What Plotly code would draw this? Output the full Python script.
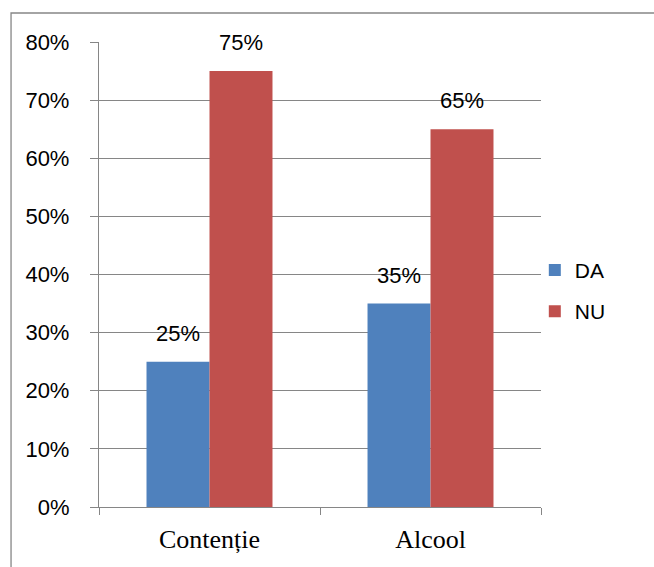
import plotly.graph_objects as go

categories = ["Contenție", "Alcool"]
series_names = ["DA", "NU"]
values_da = [0.25, 0.35]
values_nu = [0.75, 0.65]
colors = ["#4F81BD", "#C0504D"]

axis_gray = "#868686"
sans = "Liberation Sans, Arial, sans-serif"
serif = "Liberation Serif, Times New Roman, serif"

fig = go.Figure()
for name, vals, col in zip(series_names, [values_da, values_nu], colors):
    fig.add_trace(go.Bar(
        name=name, x=categories, y=vals, legendgroup=name,
        marker=dict(color=col, line=dict(width=0)),
    ))

# value labels above each bar
half_bar_px = 31.5
for vals, shift in [(values_da, -half_bar_px), (values_nu, half_bar_px)]:
    for cat, v in zip(categories, vals):
        fig.add_annotation(
            x=cat, y=v, xref="x", yref="y",
            text=f"{round(v * 100)}%", showarrow=False,
            xshift=shift, yanchor="bottom", yshift=14,
            font=dict(family=sans, size=22, color="#000000"),
        )

# chart frame
fig.add_shape(type="rect", xref="paper", yref="paper",
              x0=-0.199, x1=1.6, y0=-0.5, y1=1.0624,
              line=dict(color=axis_gray, width=1.3), layer="below")

fig.update_layout(
    width=654, height=567,
    margin=dict(l=99, r=113, t=42, b=60),
    paper_bgcolor="white", plot_bgcolor="white",
    barmode="group", bargap=0.43, bargroupgap=0,
    showlegend=True,
    legend=dict(x=0.986, y=0.465, xanchor="left", yanchor="middle",
                traceorder="grouped", tracegroupgap=11,
                font=dict(family=sans, size=21, color="#000000"),
                bgcolor="rgba(0,0,0,0)"),
    xaxis=dict(
        showline=True, linecolor=axis_gray, linewidth=1.3,
        ticks="outside", ticklen=7, tickcolor=axis_gray, tickwidth=1.3,
        tickson="boundaries", showgrid=False,
        tickfont=dict(family=serif, size=26, color="#000000"),
        ticklabelstandoff=9,
    ),
    yaxis=dict(
        range=[0, 0.8], dtick=0.1, tickformat=".0%",
        showline=True, linecolor=axis_gray, linewidth=1.3,
        ticks="outside", ticklen=8, tickcolor=axis_gray, tickwidth=1.3,
        showgrid=True, gridcolor=axis_gray, gridwidth=1.3,
        zeroline=False,
        tickfont=dict(family=sans, size=22, color="#000000"),
        ticklabelstandoff=16,
    ),
)

fig.write_html("out.html")
